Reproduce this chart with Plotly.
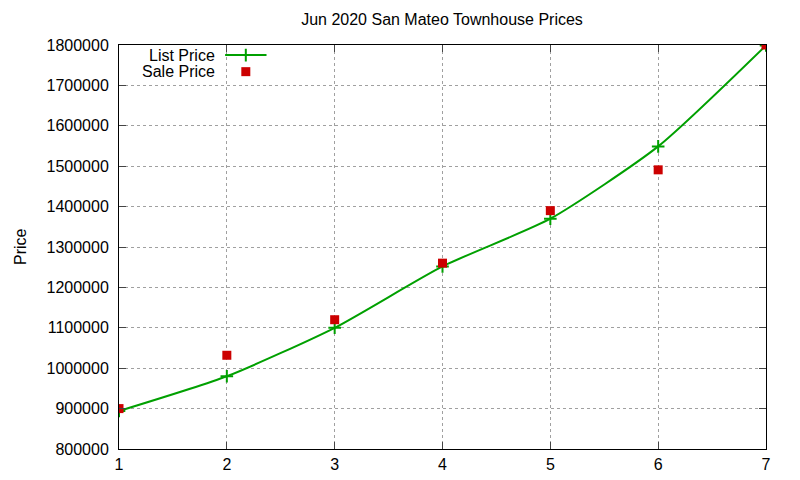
import plotly.graph_objects as go

# bedrooms / units index on x, prices on y
units = [1, 2, 3, 4, 5, 6, 7]
list_price = [894000, 980000, 1100000, 1252000, 1370000, 1549000, 1799000]
sale_price = [900000, 1032000, 1120000, 1260000, 1390000, 1491000, 1800000]

green = "#00a000"
red = "#cc0000"
font = "Liberation Sans, Arial, sans-serif"
fsize = 16

fig = go.Figure()
fig.add_trace(go.Scatter(x=units, y=list_price, name="List Price", mode="lines+markers",
                         line=dict(color=green, width=2, shape="spline", smoothing=0.6),
                         marker=dict(symbol="cross-thin", size=9, line=dict(color=green, width=2))))
fig.add_trace(go.Scatter(x=units, y=sale_price, name="Sale Price", mode="markers",
                         marker=dict(symbol="square", size=9, color=red)))

# gnuplot style key: text on the left, sample on the right (placed in plot-area fractions)
key_rows = [0.975, 0.934]
fig.add_annotation(x=0.152, y=key_rows[0], xref="x domain", yref="y domain", text="List Price",
                   showarrow=False, xanchor="right", yanchor="middle")
fig.add_annotation(x=0.152, y=key_rows[1], xref="x domain", yref="y domain", text="Sale Price",
                   showarrow=False, xanchor="right", yanchor="middle")
fig.add_shape(type="line", xref="x domain", yref="y domain", x0=0.164, x1=0.228,
              y0=key_rows[0], y1=key_rows[0], line=dict(color=green, width=2))
fig.add_trace(go.Scatter(x=[0.196], y=[key_rows[0]], xaxis="x2", yaxis="y2", mode="markers", showlegend=False,
                         marker=dict(symbol="cross-thin", size=9, line=dict(color=green, width=2)),
                         hoverinfo="skip"))
fig.add_trace(go.Scatter(x=[0.196], y=[key_rows[1]], xaxis="x2", yaxis="y2", mode="markers", showlegend=False,
                         marker=dict(symbol="square", size=9, color=red), hoverinfo="skip"))

# y axis label (paper coords are relative to the plot area)
fig.add_annotation(x=-0.153, y=0.5, xref="paper", yref="paper", text="Price", textangle=-90,
                   showarrow=False, xanchor="center", yanchor="middle", borderpad=0)

# page has an 8px body margin, so the figure is 8px smaller than the window
fig.update_layout(
    width=792, height=472,
    margin=dict(l=111, r=34, t=37, b=31),
    paper_bgcolor="white", plot_bgcolor="white",
    showlegend=False,
    font=dict(family=font, size=fsize, color="black"),
    title=dict(text="Jun 2020 San Mateo Townhouse Prices", x=0.548, xanchor="center",
               y=0.975, yanchor="middle", font=dict(size=fsize)),
    xaxis=dict(range=[1, 7], dtick=1, ticks="inside", ticklen=7, mirror="ticks", showline=True,
               linecolor="black", linewidth=1, showgrid=True, gridcolor="#a0a0a0", griddash="dot",
               zeroline=False, automargin=False, ticklabelstandoff=1),
    yaxis=dict(range=[800000, 1800000], dtick=100000, tickformat="d", ticks="inside", ticklen=7,
               mirror="ticks", showline=True, linecolor="black", linewidth=1, showgrid=True,
               gridcolor="#a0a0a0", griddash="dot", zeroline=False, automargin=False,
               ticklabelstandoff=6),
    xaxis2=dict(range=[0, 1], visible=False, overlaying="x", automargin=False),
    yaxis2=dict(range=[0, 1], visible=False, overlaying="y", automargin=False),
)

fig.write_html("out.html")
